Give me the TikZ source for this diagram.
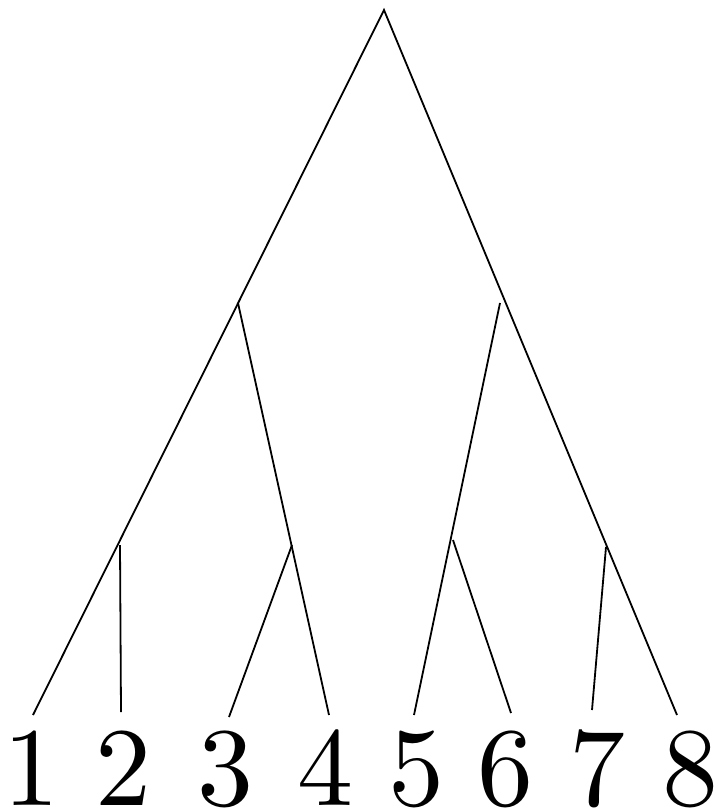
\documentclass[tikz,border=0pt]{standalone}
\font\digitfont=cmr10 at 112pt
\begin{document}
\begin{tikzpicture}[x=1pt,y=-1pt,
  edge/.style={line width=1.8pt},
  digit/.style={anchor=base,inner sep=0pt,font=\digitfont}]
\useasboundingbox (0,0) rectangle (718,809);
\coordinate (root) at (384,10);
\coordinate (a) at (238,303);
\coordinate (b) at (120,545);
\coordinate (c) at (292,545);
\coordinate (d) at (500,303);
\coordinate (e) at (453,540);
\coordinate (f) at (606,547);
\coordinate (l1) at (33,715);
\coordinate (l2) at (121,712);
\coordinate (l3) at (229,717);
\coordinate (l4) at (329,715);
\coordinate (l5) at (414,715);
\coordinate (l6) at (511,713);
\coordinate (l7) at (592,710);
\coordinate (l8) at (677,715);
\draw[edge] (l1) -- (root) -- (l8);
\draw[edge] (a) -- (l4);
\draw[edge] (b) -- (l2);
\draw[edge] (c) -- (l3);
\draw[edge] (d) -- (l5);
\draw[edge] (e) -- (l6);
\draw[edge] (f) -- (l7);
\node[digit] (n1) at (32,805) {1};
\node[digit] (n2) at (123,805) {2};
\node[digit] (n3) at (225,805) {3};
\node[digit] (n4) at (325,805) {4};
\node[digit] (n5) at (416,805) {5};
\node[digit] (n6) at (505,805) {6};
\node[digit] (n7) at (597,805) {7};
\node[digit] (n8) at (690,805) {8};
\end{tikzpicture}
\end{document}
